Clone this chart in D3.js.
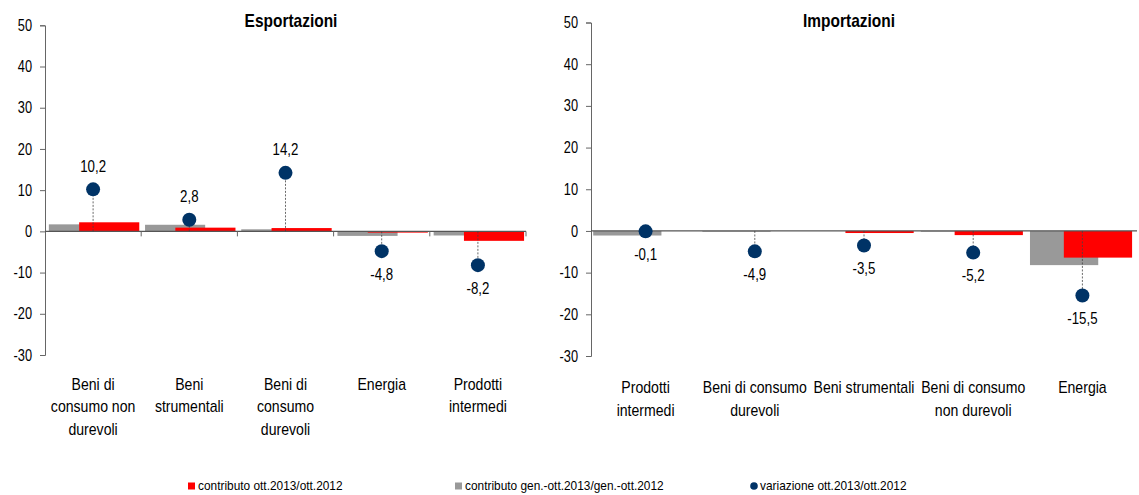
<!DOCTYPE html>
<html><head><meta charset="utf-8">
<script src="https://cdn.jsdelivr.net/npm/d3@7"></script>
<style>
body{margin:0;background:#fff;}
svg{display:block;font-family:"Liberation Sans",Arial,sans-serif;}
</style></head>
<body><svg id="c" width="1139" height="495"></svg>
<script>
const exportCats = [["Beni di","consumo non","durevoli"],["Beni","strumentali"],["Beni di","consumo","durevoli"],["Energia"],["Prodotti","intermedi"]];
const exportRed  = [2.2, 0.9, 0.8, -0.3, -2.3];
const exportGray = [1.7, 1.6, 0.5, -1.1, -1.0];
const exportVar  = [10.2, 2.8, 14.2, -4.8, -8.2];

const importCats = [["Prodotti","intermedi"],["Beni di consumo","durevoli"],["Beni strumentali"],["Beni di consumo","non durevoli"],["Energia"]];
const importRed  = [0.0, 0.0, -0.5, -1.0, -6.4];
const importGray = [-1.1, -0.2, 0.0, -0.2, -8.2];
const importVar  = [-0.1, -4.9, -3.5, -5.2, -15.5];

const yTicks = [-30, -20, -10, 0, 10, 20, 30, 40, 50];
const titles = ["Esportazioni", "Importazioni"];
const legendLabels = ["contributo ott.2013/ott.2012", "contributo gen.-ott.2013/gen.-ott.2012", "variazione ott.2013/ott.2012"];

const RED = "#ff0000", GRAY = "#999999", NAVY = "#003366";
const svg = d3.select("#c");

// horizontally condense text (reference uses a narrow typeface)
function squeeze(sel, s) {
  sel.each(function () {
    const t = d3.select(this);
    const x = +t.attr("x") || 0, y = +t.attr("y") || 0;
    t.attr("x", 0).attr("y", 0).attr("transform", `translate(${x},${y}) scale(${s},1)`);
  });
}

function panel(cfg) {
  const g = svg.append("g");
  const y = d3.scaleLinear().domain([-30, 50]).range([cfg.yBottom, cfg.yTop]);
  const x = d3.scaleBand().domain(d3.range(cfg.cats.length)).range([cfg.x0, cfg.x1]).padding(0);
  const bw = x.bandwidth();
  const barW = bw * 0.625;

  // title
  g.append("text").attr("x", cfg.titleX).attr("y", 27).attr("text-anchor", "middle")
    .attr("font-weight", "bold").attr("font-size", 18).attr("fill", "#000").text(cfg.title)
    .call(squeeze, 0.86);

  // y axis
  const ya = g.append("g").attr("transform", `translate(${cfg.x0},0)`)
    .call(d3.axisLeft(y).tickValues(yTicks).tickSize(5).tickPadding(8).tickFormat(d => String(d)));
  ya.select(".domain").attr("stroke", "#666");
  ya.selectAll(".tick line").attr("stroke", "#666");
  ya.selectAll(".tick text").attr("font-size", 16).attr("fill", "#000").attr("font-family", null)
    .call(squeeze, 0.8);

  // bars gray
  g.selectAll(".gb").data(cfg.gray).join("rect")
    .attr("x", (d, i) => x(i) + bw * cfg.grayOff)
    .attr("width", barW)
    .attr("y", d => y(Math.max(0, d)))
    .attr("height", d => Math.abs(y(d) - y(0)))
    .attr("fill", GRAY);
  g.selectAll(".rb").data(cfg.red).join("rect")
    .attr("x", (d, i) => x(i) + bw * cfg.redOff)
    .attr("width", barW)
    .attr("y", d => y(Math.max(0, d)))
    .attr("height", d => Math.abs(y(d) - y(0)))
    .attr("fill", RED);

  // zero line / x axis
  g.append("line").attr("x1", cfg.x0).attr("x2", cfg.x1).attr("y1", y(0)).attr("y2", y(0))
    .attr("stroke", "#555").attr("stroke-width", 1.2);
  if (cfg.xTicks) {
    g.selectAll(".xt").data(d3.range(1, cfg.cats.length + 1)).join("line")
      .attr("x1", i => cfg.x0 + i * bw).attr("x2", i => cfg.x0 + i * bw)
      .attr("y1", y(0)).attr("y2", y(0) + 5).attr("stroke", "#666");
  }

  // drop lines
  g.selectAll(".dl").data(cfg.vars).join("line")
    .attr("x1", (d, i) => x(i) + bw / 2).attr("x2", (d, i) => x(i) + bw / 2)
    .attr("y1", y(0)).attr("y2", d => y(d))
    .attr("stroke", "#444").attr("stroke-width", 0.8).attr("stroke-dasharray", "2,1.5");
  // dots
  g.selectAll(".dt").data(cfg.vars).join("circle")
    .attr("cx", (d, i) => x(i) + bw / 2).attr("cy", d => y(d)).attr("r", 7).attr("fill", NAVY);
  // value labels
  const fmt = v => v.toFixed(1).replace(".", ",");
  g.selectAll(".vl").data(cfg.vars).join("text")
    .attr("x", (d, i) => x(i) + bw / 2)
    .attr("y", d => y(d) + (d > 0 ? -23 : 23))
    .attr("dy", "0.35em").attr("text-anchor", "middle").attr("font-size", 16).attr("fill", "#000")
    .text(fmt)
    .call(squeeze, 0.83);

  // category labels
  cfg.cats.forEach((lines, i) => {
    const t = g.append("text").attr("text-anchor", "middle").attr("font-size", 16).attr("fill", "#000")
      .attr("transform", `translate(${x(i) + bw / 2},${cfg.labY}) scale(0.88,1)`);
    lines.forEach((ln, j) => {
      t.append("tspan").attr("x", 0).attr("y", j * 22.5).attr("dy", "0.35em").text(ln);
    });
  });
}

panel({title: titles[0], titleX: 291, cats: exportCats, red: exportRed, gray: exportGray, vars: exportVar,
  x0: 45, x1: 526, yTop: 25.3, yBottom: 355, grayOff: 0.04, redOff: 0.355, xTicks: true, labY: 384});
panel({title: titles[1], titleX: 849, cats: importCats, red: importRed, gray: importGray, vars: importVar,
  x0: 591, x1: 1137, yTop: 22.5, yBottom: 356, grayOff: 0.02, redOff: 0.33, xTicks: false, labY: 387.5});

// legend
const lg = svg.append("g");
const lx = [188, 455, 750];
lg.append("rect").attr("x", lx[0]).attr("y", 482.5).attr("width", 7).attr("height", 7).attr("fill", RED);
lg.append("rect").attr("x", lx[1]).attr("y", 482.5).attr("width", 7).attr("height", 7).attr("fill", GRAY);
lg.append("circle").attr("cx", lx[2] + 4).attr("cy", 486).attr("r", 3.8).attr("fill", NAVY);
legendLabels.forEach((t, i) => {
  lg.append("text").attr("x", lx[i] + 10).attr("y", 486).attr("dy", "0.35em").attr("font-size", 12.5)
    .attr("fill", "#000").text(t).call(squeeze, 0.95);
});
</script></body></html>
